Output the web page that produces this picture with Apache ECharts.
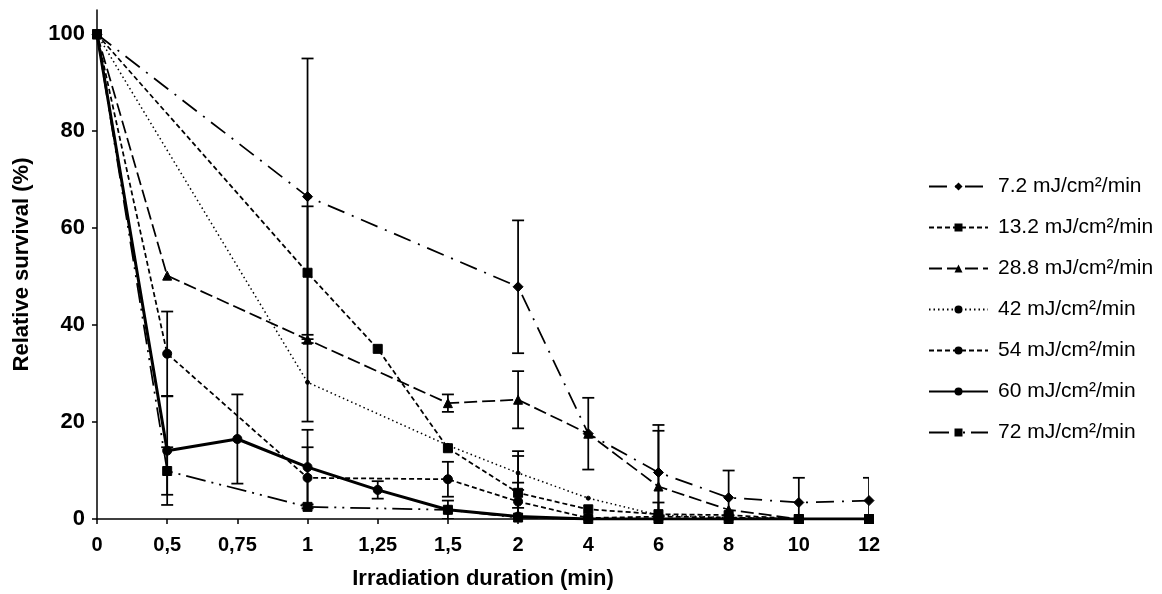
<!DOCTYPE html>
<html>
<head>
<meta charset="utf-8">
<script src="https://cdn.jsdelivr.net/npm/echarts@6/dist/echarts.min.js"></script>
<style>html,body{margin:0;padding:0;background:#fff}#c{width:1162px;height:594px}</style>
</head>
<body>
<div id="c"></div>
<script>
// ---------- data ----------
const categories = ['0', '0,5', '0,75', '1', '1,25', '1,5', '2', '4', '6', '8', '10', '12'];
const seriesNames = ['7.2 mJ/cm²/min', '13.2 mJ/cm²/min', '28.8 mJ/cm²/min', '42 mJ/cm²/min', '54 mJ/cm²/min', '60 mJ/cm²/min', '72 mJ/cm²/min'];
const yTicks = [0, 20, 40, 60, 80, 100];

const v72_low  = [100, null, null, 66.5, null, null, 47.9, 17.6, 9.6, 4.4, 3.4, 3.8];   // 7.2
const v132     = [100, null, null, 50.8, 35.1, 14.6, 5.4, 2.0, 1.0, 0.8, 0, 0];         // 13.2
const v288     = [100, 50.2, null, 37.0, null, 23.9, 24.6, 17.6, 6.7, 1.9, 0, 0];       // 28.8
const v42      = [100, null, null, 28.2, null, 15.2, 9.5, 4.3, 0.8, 0.3, 0, 0];         // 42
const v54      = [100, 34.1, null, 8.5, null, 8.2, 3.6, 0.2, 0.5, 0.3, 0, 0];           // 54
const v60      = [100, 14.1, 16.5, 10.7, 6.0, 1.9, 0.5, 0, 0, 0, 0, 0];                 // 60
const v72      = [100, 9.9, null, 2.5, null, 1.9, 0.3, 0, 0, 0, 0, 0];                  // 72

const e72_low  = [0, 0, 0, 28.5, 0, 0, 13.7, 7.4, 9.8, 5.6, 5.1, 4.7];
const e132     = [0, 0, 0, 13.7, 0, 0, 8.6, 0, 2.4, 0, 0, 0];
const e288     = [0, 0, 0, 0, 0, 1.8, 5.9, 0, 11.5, 0, 0, 0];
const e42      = [0, 0, 0, 8.1, 0, 0, 3.5, 0, 0, 0, 0, 0];
const e54      = [0, 8.7, 0, 6.3, 0, 3.6, 3.9, 0, 0, 0, 0, 0];
const e60      = [0, 11.2, 9.2, 7.7, 1.8, 1.9, 1.8, 0, 0, 0, 0, 0];
const e72      = [0, 4.9, 0, 0, 0, 0, 0, 0, 0, 0, 0, 0];

// ---------- styles ----------
const values = [v72_low, v132, v288, v42, v54, v60, v72];
const errors = [e72_low, e132, e288, e42, e54, e60, e72];
const styles = [
  { symbol: 'diamond',  size: 10, width: 1.75, type: [18, 8, 2, 8] },
  { symbol: 'rect',     size: 9,  width: 1.75, type: [5, 3] },
  { symbol: 'triangle', size: 9,  width: 1.75, type: [13, 5] },
  { symbol: 'circle',   size: 4,  width: 1.5,  type: [1.5, 3] },
  { symbol: 'circle',   size: 9,  width: 1.75, type: [5, 3] },
  { symbol: 'circle',   size: 9,  width: 3,    type: 'solid' },
  { symbol: 'rect',     size: 9,  width: 1.75, type: [20, 6, 2, 6, 2, 6] }
];
const FONT = 'Liberation Sans, Arial, sans-serif';

const series = [];
seriesNames.forEach((name, k) => {
  const errData = [];
  values[k].forEach((v, i) => {
    if (v !== null && errors[k][i] > 0) errData.push([i, v, errors[k][i]]);
  });
  series.push({
    name: name + '_err',
    type: 'custom',
    data: errData,
    clip: true,
    z: 2 + k,
    silent: true,
    renderItem: function (params, api) {
      const x = api.value(0), v = api.value(1), e = api.value(2);
      const top = api.coord([x, v + e]);
      const bot = api.coord([x, v - e]);
      const hw = 6;
      const st = { stroke: '#000', lineWidth: 1.75 };
      return {
        type: 'group',
        children: [
          { type: 'line', shape: { x1: top[0], y1: top[1], x2: bot[0], y2: bot[1] }, style: st },
          { type: 'line', shape: { x1: top[0] - hw, y1: top[1], x2: top[0] + hw, y2: top[1] }, style: st },
          { type: 'line', shape: { x1: bot[0] - hw, y1: bot[1], x2: bot[0] + hw, y2: bot[1] }, style: st }
        ]
      };
    }
  });
  series.push({
    name: name,
    type: 'line',
    data: values[k],
    connectNulls: true,
    symbol: styles[k].symbol,
    symbolSize: styles[k].size,
    showAllSymbol: true,
    z: 3 + k,
    lineStyle: { color: '#000', width: styles[k].width, type: styles[k].type },
    itemStyle: { color: '#000', borderColor: '#000' },
    emphasis: { disabled: true },
    animation: false
  });
});

const chart = echarts.init(document.getElementById('c'), null, { renderer: 'canvas' });
chart.setOption({
  animation: false,
  backgroundColor: '#fff',
  textStyle: { fontFamily: FONT },
  grid: { left: 97, right: 293, top: 10, bottom: 75, containLabel: false, outerBoundsMode: 'none' },
  legend: {
    data: seriesNames,
    orient: 'vertical',
    left: 923,
    top: 171,
    itemWidth: 59,
    itemHeight: 10,
    itemGap: 20,
    selectedMode: false,
    textStyle: { fontSize: 21, color: '#000', fontFamily: FONT, lineHeight: 16, padding: [0, 0, 0, 5] }
  },
  xAxis: {
    type: 'category',
    data: categories,
    boundaryGap: false,
    name: 'Irradiation duration (min)',
    nameLocation: 'middle',
    nameGap: 49,
    nameTextStyle: { fontSize: 22, fontWeight: 'bold', color: '#000', fontFamily: FONT },
    axisLine: { lineStyle: { color: '#000', width: 1.5 } },
    axisTick: { show: true, length: 5, lineStyle: { color: '#000', width: 1.5 } },
    axisLabel: { fontSize: 20, fontWeight: 'bold', color: '#000', margin: 16, interval: 0, fontFamily: FONT },
    splitLine: { show: false }
  },
  yAxis: {
    type: 'value',
    min: 0,
    max: 105,
    interval: 20,
    name: 'Relative survival (%)',
    nameLocation: 'middle',
    nameGap: 64,
    nameRotate: 90,
    nameTextStyle: { fontSize: 22, fontWeight: 'bold', color: '#000', fontFamily: FONT },
    axisLine: { show: true, lineStyle: { color: '#000', width: 1.5 } },
    axisTick: { show: true, length: 5, customValues: yTicks, lineStyle: { color: '#000', width: 1.5 } },
    axisLabel: {
      fontSize: 22, fontWeight: 'bold', color: '#000', margin: 12, fontFamily: FONT,
      customValues: yTicks
    },
    splitLine: { show: false }
  },
  series: series
});
</script>
</body>
</html>
